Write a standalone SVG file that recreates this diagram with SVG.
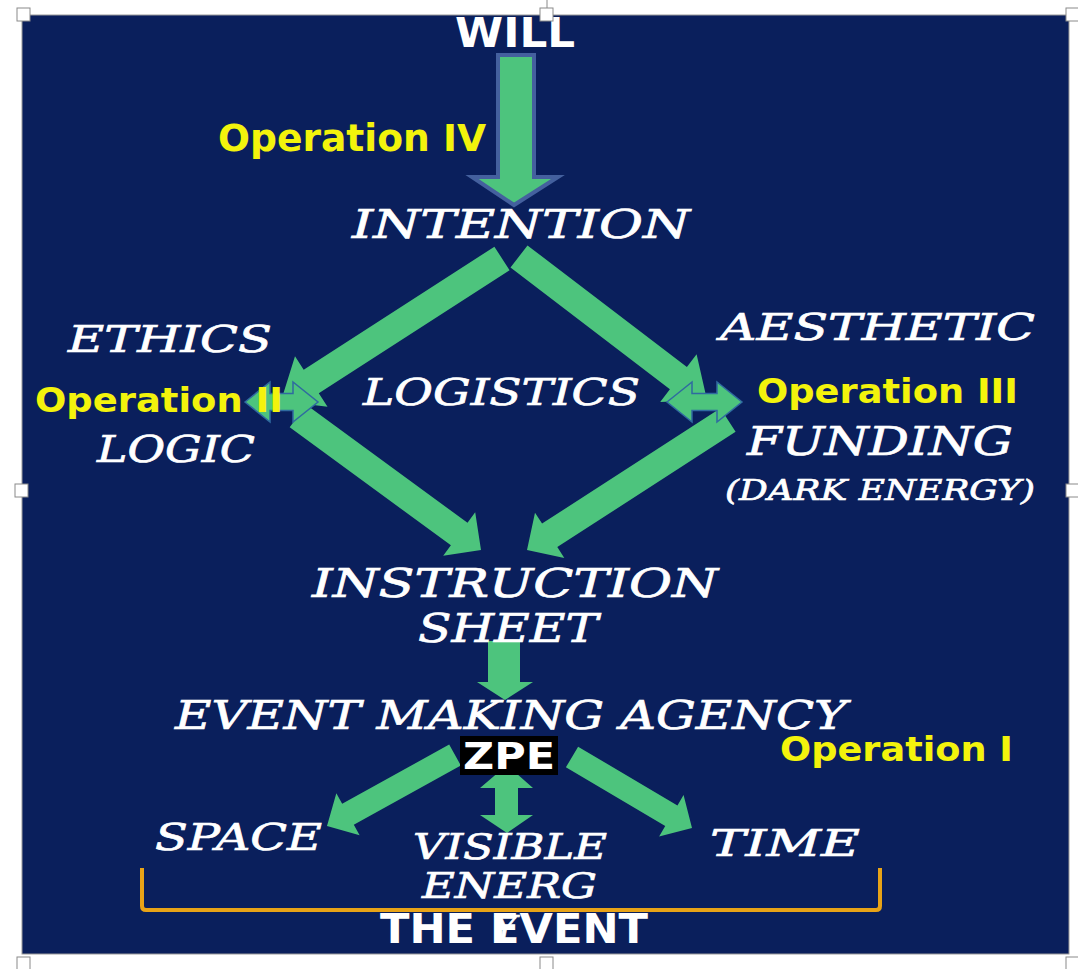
<svg xmlns="http://www.w3.org/2000/svg" width="1078" height="969" viewBox="0 0 1078 969">
<style>
.arr{fill:#4dc47d}
.dbl{fill:#4dc47d;stroke:#2f6aa0;stroke-width:1.5}
.scr{font-family:"DejaVu Serif","Liberation Serif",serif;font-style:italic;fill:#ffffff;stroke:#ffffff;stroke-width:0.7}
.bold{font-family:"DejaVu Sans","Liberation Sans",sans-serif;font-weight:bold}
.yel{fill:#f3f30c}
.wht{fill:#ffffff}
.handle{fill:#ffffff;stroke:#8a8a8a;stroke-width:1}
</style>
<rect x="0" y="0" width="1078" height="969" fill="#ffffff"/>
<rect x="22" y="15" width="1047" height="939" fill="#0a1f5c" stroke="#9a9a9a" stroke-width="1"/>

<g id="connectors">
  <polygon id="will-intention" points="498,55 534,55 534,177 558,177 514,205 472,177 498,177" fill="#4dc47d" stroke="#44609e" stroke-width="4" stroke-linejoin="miter"/>
  <polygon class="arr" id="intention-left" points="494.4,246.7 303.7,369.7 295,356.3 281,401 327.5,406.7 318.8,393.3 509.6,270.3"/>
  <polygon class="arr" id="intention-right" points="527.5,245.4 686.9,367.1 696.6,354.3 707,400 660.2,402.1 669.9,389.3 510.5,267.6"/>
  <polygon class="arr" id="left-instruction" points="306.3,404.7 467.5,522.8 475.2,512.3 481,550 443.2,555.8 450.9,545.3 289.7,427.3"/>
  <polygon class="arr" id="right-instruction" points="720.4,408.25 542.07,523.59 535,512.7 527,550 564.3,558 557.3,547.1 735.6,431.75"/>
  <polygon class="dbl" id="op2-arrow" points="245,402 270,382 270,393.5 293,393.5 293,382 318,402 293,422 293,410.5 270,410.5 270,422"/>
  <polygon class="dbl" id="op3-arrow" points="667,402 692,382 692,393.5 717,393.5 717,382 742,402 717,422 717,410.5 692,410.5 692,422"/>
  <polygon class="arr" id="sheet-agency" points="488,641 520,641 520,682 533,682 505,700 477,682 488,682"/>
  <polygon class="arr" id="zpe-space" points="449.18,744.51 342.17,803.87 336.35,793.37 327,826 359.63,835.35 353.81,824.85 460.82,765.49"/>
  <polygon class="arr" id="zpe-time" points="578.11,746.67 677.45,805.45 683.56,795.12 692,828 659.12,836.44 665.23,826.11 565.89,767.33"/>
  <polygon class="arr" id="zpe-energy" points="507,765 533,788 518,788 518,815 533,815 507,833 480,815 495,815 495,788 480,788"/>
  <path id="event-bracket" d="M142,868 V906 Q142,910 146,910 H876 Q880,910 880,906 V868" fill="none" stroke="#e8a317" stroke-width="4"/>
</g>

<g id="will"><text class="bold wht" x="455" y="47" font-size="40" textLength="120" lengthAdjust="spacingAndGlyphs">WILL</text></g>
<g id="op4"><text class="bold yel" x="218" y="151" font-size="37" textLength="268" lengthAdjust="spacingAndGlyphs">Operation IV</text></g>
<g id="intention"><text class="scr" x="352" y="238" font-size="40" textLength="338" lengthAdjust="spacingAndGlyphs">INTENTION</text></g>
<g id="ethics"><text class="scr" x="68" y="352" font-size="38" textLength="204" lengthAdjust="spacingAndGlyphs">ETHICS</text></g>
<g id="aesthetic"><text class="scr" x="720" y="340" font-size="38" textLength="315" lengthAdjust="spacingAndGlyphs">AESTHETIC</text></g>
<g id="logistics"><text class="scr" x="363" y="405" font-size="38" textLength="277" lengthAdjust="spacingAndGlyphs">LOGISTICS</text></g>
<g id="op2"><text class="bold yel" x="35" y="412" font-size="33" textLength="248" lengthAdjust="spacingAndGlyphs">Operation II</text></g>
<g id="op3"><text class="bold yel" x="757" y="403" font-size="33" textLength="261" lengthAdjust="spacingAndGlyphs">Operation III</text></g>
<g id="logic"><text class="scr" x="97" y="462" font-size="38" textLength="158" lengthAdjust="spacingAndGlyphs">LOGIC</text></g>
<g id="funding"><text class="scr" x="747" y="455" font-size="40" textLength="266" lengthAdjust="spacingAndGlyphs">FUNDING</text>
  <text class="scr" x="725" y="500" font-size="28" textLength="310" lengthAdjust="spacingAndGlyphs">(DARK ENERGY)</text></g>
<g id="instruction"><text class="scr" x="312" y="597" font-size="40" textLength="406" lengthAdjust="spacingAndGlyphs">INSTRUCTION</text>
  <text class="scr" x="418" y="642" font-size="40" textLength="180" lengthAdjust="spacingAndGlyphs">SHEET</text></g>
<g id="agency"><text class="scr" x="175" y="729" font-size="40" textLength="672" lengthAdjust="spacingAndGlyphs">EVENT MAKING AGENCY</text></g>
<g id="op1"><text class="bold yel" x="780" y="761" font-size="33" textLength="233" lengthAdjust="spacingAndGlyphs">Operation I</text></g>
<g id="zpe"><rect x="460" y="736" width="98" height="39" fill="#000000"/>
  <text class="bold wht" x="463" y="769" font-size="38" textLength="92" lengthAdjust="spacingAndGlyphs">ZPE</text></g>
<g id="space"><text class="scr" x="155" y="850" font-size="38" textLength="167" lengthAdjust="spacingAndGlyphs">SPACE</text></g>
<g id="visible"><text class="scr" x="413" y="859" font-size="36" textLength="194" lengthAdjust="spacingAndGlyphs">VISIBLE</text>
  <text class="scr" x="422" y="898" font-size="36" textLength="175" lengthAdjust="spacingAndGlyphs">ENERG</text></g>
<g id="time"><text class="scr" x="710" y="856" font-size="38" textLength="150" lengthAdjust="spacingAndGlyphs">TIME</text></g>
<g id="event"><text class="bold wht" x="380" y="943" font-size="41" textLength="268" lengthAdjust="spacingAndGlyphs">THE EVENT</text>
  <text class="scr" x="493" y="941" font-size="36">Y</text></g>

<g id="handles">
  <line x1="547" y1="0" x2="547" y2="9" stroke="#8a8a8a" stroke-width="1"/>
  <rect class="handle" x="17" y="8" width="13" height="13"/>
  <rect class="handle" x="540" y="8" width="13" height="13"/>
  <rect class="handle" x="1066" y="8" width="13" height="13"/>
  <rect class="handle" x="15" y="484" width="13" height="13"/>
  <rect class="handle" x="1066" y="484" width="13" height="13"/>
  <rect class="handle" x="17" y="957" width="13" height="13"/>
  <rect class="handle" x="540" y="957" width="13" height="13"/>
  <rect class="handle" x="1066" y="957" width="13" height="13"/>
</g>
</svg>
